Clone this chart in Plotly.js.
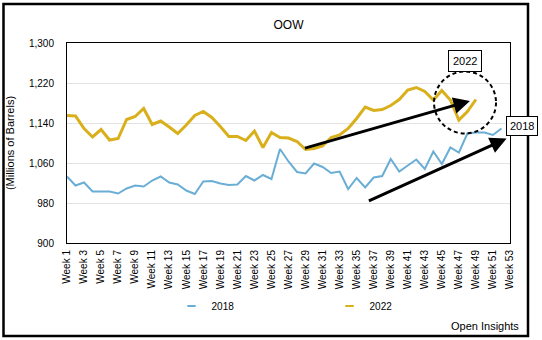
<!DOCTYPE html>
<html>
<head>
<meta charset="utf-8">
<script src="https://cdn.plot.ly/plotly-3.0.1.min.js"></script>
<style>
  html, body { margin: 0; padding: 0; background: #fff; }
  #chart { width: 542px; height: 340px; }
</style>
</head>
<body>
<div id="chart"></div>
<script>
// ---- data ----
const weeks = [];
for (let i = 1; i <= 53; i++) weeks.push('Week ' + i);

const tickWeeks = weeks.filter((w, i) => i % 2 === 0);

const values2018 = [1033, 1015, 1021, 1003, 1003, 1003, 999, 1009, 1015, 1013,
  1025, 1033, 1021, 1017, 1005, 998, 1023, 1024, 1019, 1016,
  1017, 1034, 1025, 1036, 1028, 1088, 1063, 1042, 1039, 1059,
  1052, 1040, 1043, 1008, 1030, 1011, 1031, 1034, 1068, 1043,
  1055, 1067, 1048, 1083, 1058, 1091, 1081, 1119, 1121, 1121,
  1116, 1129];

const values2022 = [1155, 1154, 1129, 1112, 1127, 1106, 1109, 1147, 1153, 1169,
  1137, 1144, 1132, 1119, 1136, 1155, 1163, 1151, 1133, 1113,
  1113, 1105, 1124, 1091, 1121, 1111, 1110, 1103, 1087, 1089,
  1094, 1111, 1116, 1129, 1149, 1172, 1165, 1167, 1175, 1187,
  1206, 1211, 1203, 1186, 1205, 1186, 1146, 1163, 1187];

const yTicks = [900, 980, 1060, 1140, 1220, 1300];

// ---- styles ----
const BLUE = '#6aaed6';
const GOLD = '#d9b01c';
const FONT = '"Liberation Sans", Arial, Helvetica, sans-serif';

const traces = [
  { x: weeks.slice(0, values2018.length), y: values2018, type: 'scatter', mode: 'lines',
    name: '2018', line: { color: BLUE, width: 2 }, showlegend: false },
  { x: weeks.slice(0, values2022.length), y: values2022, type: 'scatter', mode: 'lines',
    name: '2022', line: { color: GOLD, width: 3 }, showlegend: false },
  // legend entries (short dash symbols)
  { x: [null], y: [null], type: 'scatter', mode: 'markers', name: '2018',
    marker: { symbol: 'line-ew', size: 6, line: { color: BLUE, width: 2 } } },
  { x: [null], y: [null], type: 'scatter', mode: 'markers', name: '2022',
    marker: { symbol: 'line-ew', size: 6, line: { color: GOLD, width: 2 } } }
];

const layout = {
  width: 542, height: 340,
  margin: { l: 67, r: 32, t: 43, b: 97 },
  paper_bgcolor: '#fff', plot_bgcolor: '#fff',
  font: { family: FONT, size: 10, color: '#000' },
  title: { text: 'OOW', font: { family: FONT, size: 12, color: '#000' },
           x: 0.5, xref: 'paper', xanchor: 'center', y: 1 - 25 / 340, yanchor: 'middle' },
  xaxis: {
    type: 'category', categoryorder: 'array', categoryarray: weeks,
    range: [0, 52], tickmode: 'array', tickvals: tickWeeks, ticktext: tickWeeks,
    tickangle: -90, ticks: '', ticklabelstandoff: 2,
    showgrid: false, zeroline: false,
    showline: true, mirror: true, linecolor: '#000', linewidth: 1,
    tickfont: { family: FONT, size: 10, color: '#000' }, fixedrange: true
  },
  yaxis: {
    range: [900, 1300], tickmode: 'array', tickvals: yTicks,
    tickformat: ',d', ticks: '', ticklabelstandoff: 10,
    showgrid: true, gridcolor: '#e3e3e3', gridwidth: 1, zeroline: false,
    showline: true, mirror: true, linecolor: '#000', linewidth: 1,
    tickfont: { family: FONT, size: 10, color: '#000' },
    title: { text: '(Millions of Barrels)', font: { family: FONT, size: 11, color: '#000' }, standoff: 12 },
    fixedrange: true
  },
  showlegend: true,
  legend: {
    orientation: 'h', x: 0.236, xanchor: 'left', y: -0.315, yanchor: 'middle',
    entrywidth: 113, entrywidthmode: 'pixels',
    font: { family: FONT, size: 10, color: '#000' },
    bgcolor: 'rgba(0,0,0,0)', itemclick: false, itemdoubleclick: false
  },
  shapes: [
    // outer frame
    { type: 'rect', xref: 'paper', yref: 'paper', xsizemode: 'pixel', ysizemode: 'pixel',
      xanchor: 0, yanchor: 0, x0: -63.5, x1: 461, y0: -93, y1: 239,
      line: { color: '#000', width: 2.5 }, fillcolor: 'rgba(0,0,0,0)', layer: 'above' },
    // dashed circle around 2022 end
    { type: 'circle', xref: 'x', yref: 'y', xsizemode: 'pixel', ysizemode: 'pixel',
      xanchor: 46.72, yanchor: 1181, x0: -31, x1: 31, y0: -31, y1: 31,
      line: { color: '#000', width: 2, dash: '4px,3px' }, fillcolor: 'rgba(0,0,0,0)', layer: 'above' }
  ],
  annotations: [
    // arrow along 2022
    { xref: 'x', yref: 'y', axref: 'x', ayref: 'y', x: 47.3, y: 1184, ax: 27.76, ay: 1089,
      text: '', showarrow: true, arrowhead: 2, arrowsize: 1.1, arrowwidth: 3, arrowcolor: '#000' },
    // arrow along 2018
    { xref: 'x', yref: 'y', axref: 'x', ayref: 'y', x: 51.6, y: 1109, ax: 35.26, ay: 983,
      text: '', showarrow: true, arrowhead: 2, arrowsize: 1.1, arrowwidth: 3, arrowcolor: '#000' },
    // label boxes
    { xref: 'x', yref: 'y', x: 46.72, y: 1265, xanchor: 'center', yanchor: 'middle',
      text: '2022', showarrow: false,
      font: { family: FONT, size: 11, color: '#000' }, bgcolor: '#fff',
      bordercolor: '#000', borderwidth: 1, borderpad: 4 },
    { xref: 'paper', yref: 'paper', x: (521.5 - 67) / 443, y: (243 - 126) / 200,
      xanchor: 'center', yanchor: 'middle', text: '2018', showarrow: false,
      font: { family: FONT, size: 11, color: '#000' }, bgcolor: '#fff',
      bordercolor: '#000', borderwidth: 1, borderpad: 3 },
    // source
    { xref: 'paper', yref: 'paper', x: (521 - 67) / 443, y: (243 - 326) / 200,
      xanchor: 'right', yanchor: 'middle', text: 'Open Insights', showarrow: false,
      font: { family: FONT, size: 11, color: '#000' } }
  ]
};

Plotly.newPlot('chart', traces, layout, { displayModeBar: false, staticPlot: true });
</script>
</body>
</html>
